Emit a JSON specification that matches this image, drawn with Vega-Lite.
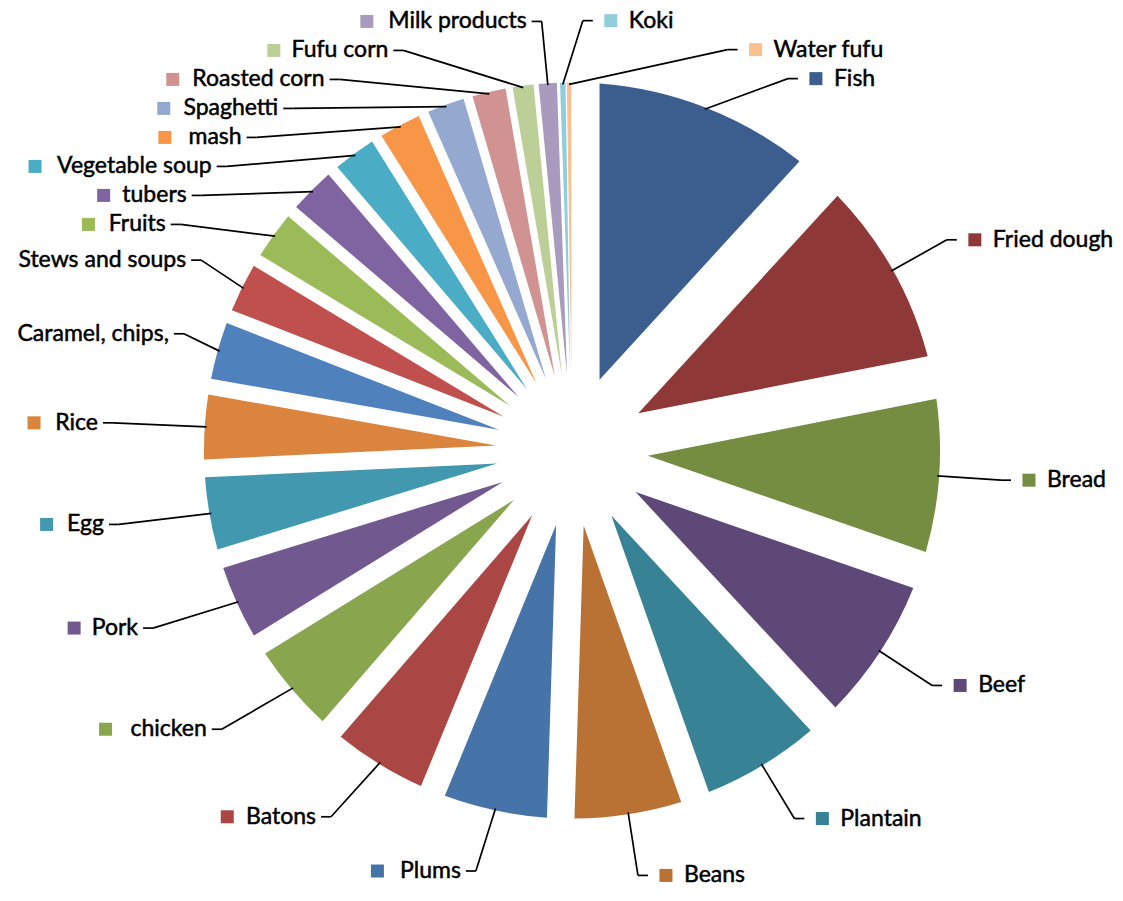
{
  "$schema": "https://vega.github.io/schema/vega-lite/v6.json",
  "width": 1102,
  "height": 901,
  "autosize": {"type": "none"},
  "padding": {"left": 21, "right": 0, "top": 0, "bottom": 0},
  "background": "white",
  "config": {"view": {"stroke": null}},
  "data": {
    "values": [
      {"name": "Fish", "v": 11.8, "rank": 1},
      {"name": "Fried dough", "v": 10.1, "rank": 2},
      {"name": "Bread", "v": 8.4, "rank": 3},
      {"name": "Beef", "v": 7.8, "rank": 4},
      {"name": "Plantain", "v": 6.5, "rank": 5},
      {"name": "Beans", "v": 5.9, "rank": 6},
      {"name": "Plums", "v": 5.7, "rank": 7},
      {"name": "Batons", "v": 5.15, "rank": 8},
      {"name": "chicken", "v": 4.85, "rank": 9},
      {"name": "Pork", "v": 4.05, "rank": 10},
      {"name": "Egg", "v": 4.0, "rank": 11},
      {"name": "Rice", "v": 3.55, "rank": 12},
      {"name": "Caramel, chips,", "v": 3.15, "rank": 13},
      {"name": "Stews and soups", "v": 2.7, "rank": 14},
      {"name": "Fruits", "v": 2.6, "rank": 15},
      {"name": "tubers", "v": 2.5, "rank": 16},
      {"name": "Vegetable soup", "v": 2.35, "rank": 17},
      {"name": "mash", "v": 2.3, "rank": 18},
      {"name": "Spaghetti", "v": 2.05, "rank": 19},
      {"name": "Roasted corn", "v": 1.85, "rank": 20},
      {"name": "Fufu corn", "v": 1.15, "rank": 21},
      {"name": "Milk products", "v": 1.0, "rank": 22},
      {"name": "Koki", "v": 0.3, "rank": 23},
      {"name": "Water fufu", "v": 0.25, "rank": 24}
    ]
  },
  "transform": [
    {"joinaggregate": [{"op": "sum", "field": "v", "as": "tot"}]},
    {"stack": "v", "groupby": [], "sort": [{"field": "rank", "order": "ascending"}], "as": ["s0", "s1"]},
    {"calculate": "PI*(datum.s0+datum.s1)/datum.tot", "as": "a"},
    {"calculate": "(datum.a + 0.03) % (2*PI)", "as": "key"},
    {"calculate": "datum.key < PI ? 1 : -1", "as": "side"},
    {"calculate": "datum.side * datum.key", "as": "sk"},
    {"calculate": "-1.1685*cos(datum.a)", "as": "d"},
    {"window": [{"op": "row_number", "as": "k"}], "groupby": ["side"], "sort": [{"field": "sk", "order": "ascending"}]},
    {"calculate": "datum.d - 0.0788*datum.k", "as": "z"},
    {"window": [{"op": "max", "field": "z", "as": "zm"}], "groupby": ["side"], "sort": [{"field": "sk", "order": "ascending"}], "frame": [null, 0]},
    {"calculate": "datum.zm + 0.0788*datum.k", "as": "dd"},
    {"calculate": "-datum.dd", "as": "ly"},
    {"calculate": "23*(0.54*length(datum.name) - 0.25*(length(datum.name) - length(replace(datum.name, regexp('[iljftr ,.I]', 'g'), ''))) + 0.31*(length(datum.name) - length(replace(datum.name, regexp('[mwMW]', 'g'), ''))))/368", "as": "ew"},
    {"calculate": "datum.side > 0 ? min(1.1685*sqrt(max(0, 1 - pow(datum.dd/1.1685, 2))), 1.356 - datum.ew) : max(-1.25*sqrt(max(0, 1 - pow(datum.dd/1.1685, 2))), -1.4864 + datum.ew)", "as": "lx"},
    {"calculate": "datum.lx + datum.side*0.0272", "as": "tx"},
    {"calculate": "datum.side > 0 ? datum.tx + 0.0978 : datum.tx - 0.0136", "as": "textx"},
    {"calculate": "datum.side > 0 ? datum.tx + 0.0489 : datum.tx - 0.0136 - datum.ew - 0.0543", "as": "sqx"},
    {"calculate": "0.995*sin(datum.a)", "as": "px"},
    {"calculate": "0.995*cos(datum.a)", "as": "py"}
  ],
  "layer": [
    {
      "mark": {
        "type": "arc",
        "innerRadius": 76,
        "outerRadius": 368,
        "padAngle": {"expr": "2*asin(76*sin(PI*datum.v/datum.tot)/375.77)"}
      },
      "encoding": {
        "theta": {"field": "v", "type": "quantitative", "stack": true},
        "order": {"field": "rank", "type": "quantitative"},
        "color": {
          "field": "name",
          "type": "nominal",
          "legend": null,
          "scale": {
            "domain": ["Fish", "Fried dough", "Bread", "Beef", "Plantain", "Beans", "Plums", "Batons", "chicken", "Pork", "Egg", "Rice", "Caramel, chips,", "Stews and soups", "Fruits", "tubers", "Vegetable soup", "mash", "Spaghetti", "Roasted corn", "Fufu corn", "Milk products", "Koki", "Water fufu"],
            "range": ["#3B5E8F", "#8E3937", "#758D40", "#5E4878", "#378294", "#BA7234", "#4673A8", "#AA4744", "#89A54E", "#71588F", "#4198AF", "#DB843D", "#4F81BD", "#C0504D", "#9BBB59", "#8064A2", "#4BACC6", "#F79646", "#95A9D0", "#D19392", "#BBCF97", "#A99BBD", "#92CDDC", "#FAC090"]
          }
        }
      }
    },
    {
      "mark": {"type": "rule", "color": "black", "strokeWidth": 1.7},
      "encoding": {
        "x": {"field": "px", "type": "quantitative", "axis": null, "scale": {"domain": [-1.4973, 1.4973], "nice": false, "zero": false}},
        "y": {"field": "py", "type": "quantitative", "axis": null, "scale": {"domain": [-1.2242, 1.2242], "nice": false, "zero": false}},
        "x2": {"field": "lx"},
        "y2": {"field": "ly"}
      }
    },
    {
      "mark": {"type": "rule", "color": "black", "strokeWidth": 1.7},
      "encoding": {
        "x": {"field": "lx", "type": "quantitative"},
        "y": {"field": "ly", "type": "quantitative"},
        "x2": {"field": "tx"},
        "y2": {"field": "ly"}
      }
    },
    {
      "mark": {"type": "square", "size": 169, "opacity": 1, "filled": true},
      "encoding": {
        "x": {"field": "sqx", "type": "quantitative"},
        "y": {"field": "ly", "type": "quantitative"},
        "color": {"field": "name", "type": "nominal", "legend": null}
      }
    },
    {
      "mark": {
        "type": "text",
        "font": "Lato",
        "fontSize": 23,
        "color": "black",
        "stroke": "black",
        "strokeWidth": 0.5,
        "baseline": "middle",
        "align": {"expr": "datum.side > 0 ? 'left' : 'right'"}
      },
      "encoding": {
        "x": {"field": "textx", "type": "quantitative"},
        "y": {"field": "ly", "type": "quantitative"},
        "text": {"field": "name", "type": "nominal"}
      }
    }
  ]
}
